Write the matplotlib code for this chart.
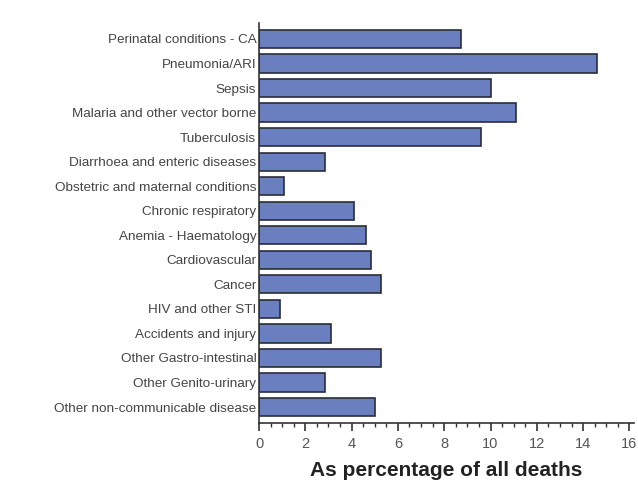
import matplotlib.pyplot as plt
import numpy as np

categories = [
    'Perinatal conditions - CA',
    'Pneumonia/ARI',
    'Sepsis',
    'Malaria and other vector borne',
    'Tuberculosis',
    'Diarrhoea and enteric diseases',
    'Obstetric and maternal conditions',
    'Chronic respiratory',
    'Anemia - Haematology',
    'Cardiovascular',
    'Cancer',
    'HIV and other STI',
    'Accidents and injury',
    'Other Gastro-intestinal',
    'Other Genito-urinary',
    'Other non-communicable disease',
]
percent_deaths = [8.72, 14.61, 10.0, 11.1, 9.6, 2.84, 1.10, 4.11,
                  4.61, 4.84, 5.25, 0.91, 3.13, 5.25, 2.86, 5.02]
x_ticks = [0, 2, 4, 6, 8, 10, 12, 14, 16]

plt.rcParams['font.family'] = ['Liberation Sans', 'DejaVu Sans']

fig = plt.figure(figsize=(6.38, 4.91), dpi=100)
ax = fig.add_axes([0.406, 0.1385, 0.5878, 0.8147])

y = np.arange(len(categories))
ax.barh(y, percent_deaths, height=0.74, color='#6a7fbf',
        edgecolor='#2b2d38', linewidth=1.2)

ax.set_ylim(len(categories) - 0.35, -0.65)
ax.set_xlim(0, 16.2)
ax.set_yticks(y)
ax.set_yticklabels(categories, fontsize=9.7, color='#444444')
ax.tick_params(axis='y', length=0, pad=2)

ax.set_xticks(x_ticks)
ax.set_xticklabels([str(t) for t in x_ticks], fontsize=10.5, color='#555555')
ax.set_xticks(np.arange(0, 16.01, 0.5), minor=True)
ax.tick_params(axis='x', which='major', length=6, width=1.2, color='#333333', pad=4)
ax.tick_params(axis='x', which='minor', length=3, width=1, color='#333333')

ax.spines['top'].set_visible(False)
ax.spines['right'].set_visible(False)
ax.spines['left'].set_color('#333333')
ax.spines['bottom'].set_color('#333333')
ax.spines['left'].set_linewidth(1.2)
ax.spines['bottom'].set_linewidth(1.2)

ax.set_xlabel('As percentage of all deaths', fontsize=15, fontweight='bold',
              color='#222222', labelpad=7)

fig.savefig('out.png', dpi=100)
